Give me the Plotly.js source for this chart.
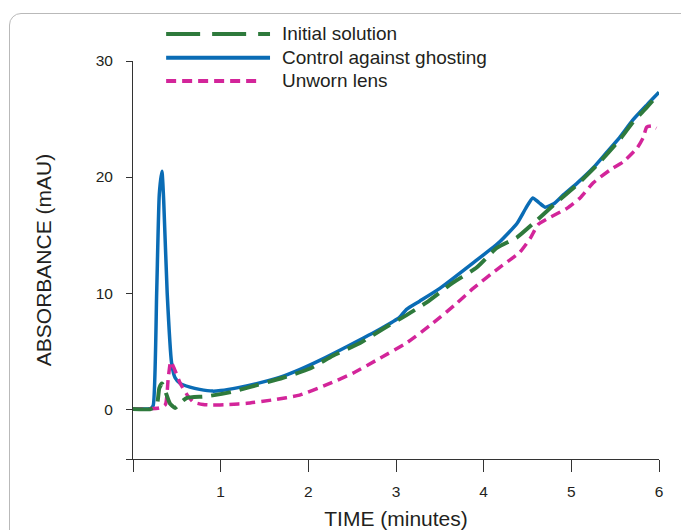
<!DOCTYPE html>
<html>
<head>
<meta charset="utf-8">
<script src="https://cdn.plot.ly/plotly-3.0.1.min.js"></script>
<style>
  html, body { margin: 0; padding: 0; background: #ffffff; }
  #wrap { position: relative; width: 681px; height: 530px; overflow: hidden; }
  #frame { position: absolute; left: 9px; top: 13px; width: 720px; height: 620px;
           border: 1px solid #b9b9b9; border-radius: 12px; box-sizing: border-box; }
  #chart { position: absolute; left: 0; top: 0; width: 681px; height: 530px; }
</style>
</head>
<body>
<div id="wrap">
  <div id="frame"></div>
  <div id="chart"></div>
</div>
<script>
// ---- data ----
const seriesNames = ["Initial solution", "Control against ghosting", "Unworn lens"];

const controlTime = [0, 0.1, 0.2, 0.23, 0.27, 0.3, 0.33, 0.35, 0.39, 0.44, 0.48, 0.54, 0.65, 0.76, 0.91, 1.0, 1.2, 1.41, 1.68, 1.9, 2.13, 2.47, 2.82, 3.04, 3.12, 3.27, 3.5, 3.88, 4.18, 4.38, 4.48, 4.56, 4.63, 4.7, 4.8, 4.9, 5.07, 5.25, 5.4, 5.55, 5.7, 5.86, 6.0];
const controlAbs  = [0, 0, 0.05, 0.3, 10, 18.5, 20.5, 18, 10, 4, 2.7, 2.2, 1.9, 1.7, 1.55, 1.6, 1.85, 2.2, 2.75, 3.4, 4.2, 5.5, 6.9, 7.9, 8.6, 9.3, 10.4, 12.6, 14.4, 16.0, 17.3, 18.2, 17.8, 17.4, 17.7, 18.4, 19.5, 20.8, 22.1, 23.4, 24.9, 26.2, 27.3];

const initialTime = [0, 0.2, 0.27, 0.3, 0.33, 0.37, 0.42, 0.48, 0.55, 0.61, 0.84, 1.14, 1.33, 1.71, 2.02, 2.28, 2.59, 2.85, 3.12, 3.35, 3.65, 3.92, 4.15, 4.38, 4.61, 4.83, 5.06, 5.25, 5.55, 5.7, 5.86, 6.0];
const initialAbs  = [0, 0, 0.3, 1.8, 2.2, 1.5, 0.5, 0.1, 0.6, 0.95, 1.1, 1.5, 1.9, 2.7, 3.5, 4.6, 5.7, 6.9, 8.1, 9.2, 10.9, 12.2, 13.9, 14.8, 16.3, 17.8, 19.3, 20.7, 23.2, 24.7, 26.0, 27.2];

const unwornTime = [0, 0.3, 0.37, 0.4, 0.43, 0.47, 0.54, 0.62, 0.69, 0.8, 0.91, 1.1, 1.3, 1.6, 1.9, 2.21, 2.51, 2.82, 3.12, 3.42, 3.69, 3.88, 4.18, 4.41, 4.53, 4.62, 4.75, 4.95, 5.1, 5.25, 5.44, 5.59, 5.75, 5.82, 5.86, 5.92, 5.97];
const unwornAbs  = [0, 0.1, 0.4, 2.5, 4.1, 3.5, 2.2, 1.2, 0.6, 0.4, 0.35, 0.4, 0.5, 0.8, 1.2, 2.1, 3.1, 4.4, 5.7, 7.4, 9.1, 10.4, 12.2, 13.5, 14.7, 15.9, 16.5, 17.3, 18.2, 19.5, 20.6, 21.3, 22.5, 23.4, 24.3, 24.4, 24.2];

const xTickVals = [0, 1, 2, 3, 4, 5, 6];
const xTickText = ["", "1", "2", "3", "4", "5", "6"];
const yTickVals = [-4.3, 0, 10, 20, 30];
const yTickText = ["", "0", "10", "20", "30"];

// ---- styling ----
const FONT = "Liberation Sans, Arial, Helvetica, sans-serif";
const INK = "#231f20";
const BLUE = "#0a6cb5";
const GREEN = "#2e7a3c";
const PINK = "#d3259a";

const seriesStyle = [
  { color: GREEN, width: 4, dash: "20px,9px" },   // Initial solution
  { color: BLUE, width: 3.5, dash: "solid" },     // Control against ghosting
  { color: PINK, width: 3.5, dash: "10px,6px" }   // Unworn lens
];

const traces = [
  { x: controlTime, y: controlAbs, name: seriesNames[1], type: "scatter", mode: "lines",
    line: { color: seriesStyle[1].color, width: seriesStyle[1].width, shape: "spline", smoothing: 0.5 } },
  { x: unwornTime, y: unwornAbs, name: seriesNames[2], type: "scatter", mode: "lines",
    line: { color: seriesStyle[2].color, width: seriesStyle[2].width, dash: seriesStyle[2].dash, shape: "spline", smoothing: 0.5 } },
  { x: initialTime, y: initialAbs, name: seriesNames[0], type: "scatter", mode: "lines",
    line: { color: seriesStyle[0].color, width: seriesStyle[0].width, dash: seriesStyle[0].dash, shape: "spline", smoothing: 0.5 } }
];

// hand-built legend (long line samples, tight rows) in paper coordinates
const legendRowsY = [1.068, 1.008, 0.950];
const legendLineX0 = 0.063;
const legendLineX1 = [0.2605, 0.2605, 0.2433];
const legendTextX = 0.2795;
const legendShapes = seriesNames.map((n, i) => ({
  type: "line", xref: "paper", yref: "paper",
  x0: legendLineX0, x1: legendLineX1[i], y0: legendRowsY[i], y1: legendRowsY[i],
  line: { color: seriesStyle[i].color, width: 4, dash: i === 0 ? "34px,12px" : seriesStyle[i].dash }
}));
const legendTexts = seriesNames.map((n, i) => ({
  xref: "paper", yref: "paper", x: legendTextX, y: legendRowsY[i],
  xanchor: "left", yanchor: "middle", text: n, showarrow: false,
  font: { family: FONT, size: 19, color: INK }
}));

const layout = {
  width: 681, height: 530,
  margin: { l: 133, r: 22, t: 61, b: 71, pad: 0, autoexpand: false },
  paper_bgcolor: "rgba(0,0,0,0)",
  plot_bgcolor: "rgba(0,0,0,0)",
  font: { family: FONT, color: INK, size: 15 },
  showlegend: false,
  shapes: legendShapes,
  annotations: legendTexts,
  xaxis: {
    range: [0, 6], autorange: false,
    tickvals: xTickVals, ticktext: xTickText,
    showline: true, linecolor: "#333333", linewidth: 1,
    ticks: "outside", ticklen: 12, tickcolor: "#333333", tickwidth: 1,
    ticklabelstandoff: 6,
    showgrid: false, zeroline: false,
    tickfont: { family: FONT, size: 15.5, color: INK },
    title: { text: "TIME (minutes)", font: { family: FONT, size: 21, color: INK }, standoff: 12 }
  },
  yaxis: {
    range: [-4.3, 30], autorange: false,
    tickvals: yTickVals, ticktext: yTickText,
    showline: true, linecolor: "#333333", linewidth: 1,
    ticks: "outside", ticklen: 6, tickcolor: "#333333", tickwidth: 1,
    ticklabelstandoff: 10,
    showgrid: false, zeroline: false,
    tickfont: { family: FONT, size: 15.5, color: INK },
    title: { text: "ABSORBANCE (mAU)", font: { family: FONT, size: 21, color: INK }, standoff: 38 }
  }
};

Plotly.newPlot("chart", traces, layout, { staticPlot: true, displayModeBar: false });
</script>
</body>
</html>
